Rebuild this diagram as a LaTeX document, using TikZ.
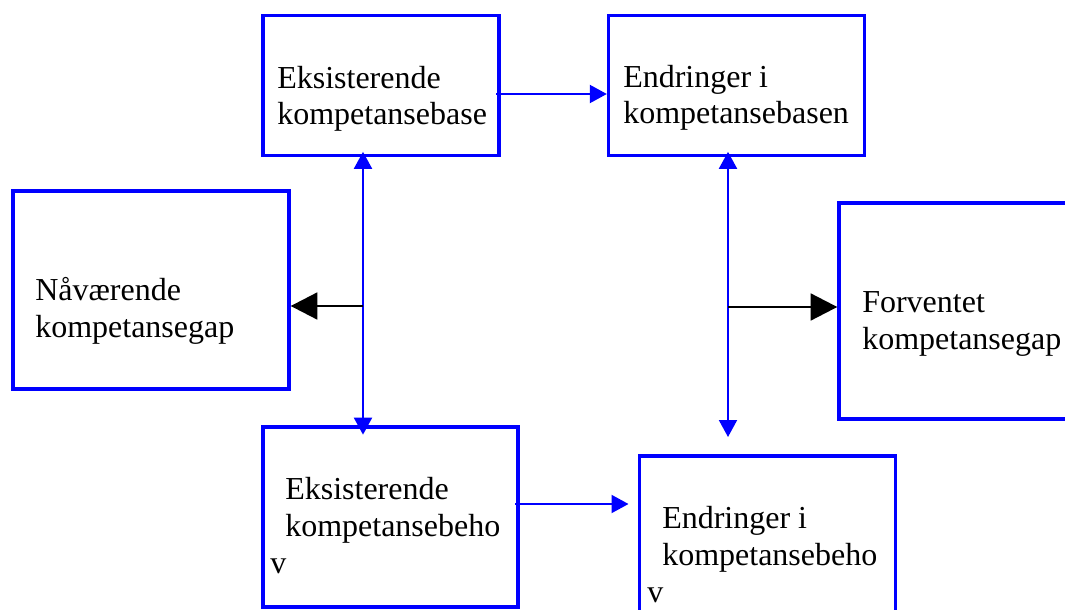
\documentclass[tikz,border=0pt]{standalone}
\usepackage{fontspec}
\setmainfont{Liberation Serif}
\usetikzlibrary{arrows.meta,positioning}
\tikzset{kbox/.style={draw=blue, line width=2.5pt, inner sep=0pt},
ktxt/.style={inner sep=0pt, anchor=base west, align=left, font=\fontsize{24}{27.75}\selectfont},
blar/.style={draw=blue, line width=1.5pt, -{Triangle[width=13.5pt,length=12.75pt]}},
dblar/.style={draw=blue, line width=1.5pt, {Triangle[width=13.5pt,length=12.75pt]}-{Triangle[width=13.5pt,length=12.75pt]}},
bkar/.style={line width=2.2pt, -{Triangle[width=20pt,length=20pt]}}}

\begin{document}
\begin{tikzpicture}[x=0.75pt,y=-0.75pt]
\clip (0,0) rectangle (1065,610);
\fill[white] (0,0) rectangle (1065,610);
\node[kbox, minimum width=177pt, minimum height=105pt] (eb) at (381,85.5) {};
\node[kbox, minimum width=192pt, minimum height=105pt] (ebn) at (736.5,85.5) {};
\node[kbox, minimum width=207pt, minimum height=148.5pt] (ng) at (151,290) {};
\node[kbox, minimum width=195.75pt, minimum height=162pt] (fg) at (969.5,311) {};
\node[kbox, minimum width=191.25pt, minimum height=135pt] (ebh) at (390.5,517) {};
\node[kbox, minimum width=192pt, minimum height=145.5pt] (ebe) at (767.5,553) {};
\node[ktxt] (teb) at (277,125) {Eksisterende\\kompetansebase};
\node[ktxt] (tebn) at (623,124) {Endringer i\\kompetansebasen};
\node[ktxt] (tng) at (35,337) {Nåværende\\kompetansegap};
\node[ktxt] (tfg) at (862,349) {Forventet\\kompetansegap};
\node[ktxt] (tebh) at (285,536) {Eksisterende\\kompetansebeho};
\node[ktxt] (vebh) at (270,573) {v};
\node[ktxt] (tebe) at (662,565) {Endringer i\\kompetansebeho};
\node[ktxt] (vebe) at (647,602) {v};
\coordinate (lx) at (363,0);
\coordinate (rx) at (728,0);
\coordinate (lj) at (363,306);
\coordinate (rj) at (728,307);
\coordinate (rv) at (728,437);
\coordinate (ab) at (496,94);
\coordinate (ef) at (515,504);
\draw[dblar, shorten <=-4pt, shorten >=-7pt] (lx |- eb.south) -- (lx |- ebh.north);
\draw[dblar, shorten <=-4pt] (rx |- ebn.south) -- (rv);
\draw[bkar] (lj) -- (ng.east |- lj);
\draw[bkar] (rj) -- (fg.west |- rj);
\draw[blar] (ab) -- (ebn.west |- ab);
\draw[blar, shorten >=7pt] (ef) -- (ebe.west |- ef);
\end{tikzpicture}
\end{document}
